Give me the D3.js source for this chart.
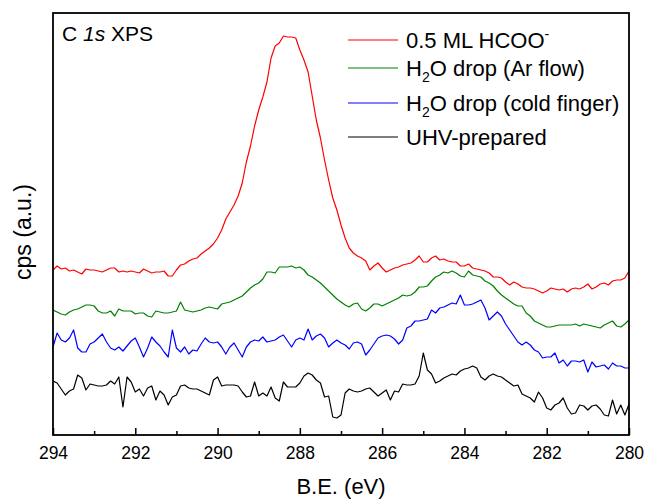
<!DOCTYPE html>
<html>
<head>
<meta charset="utf-8">
<script src="https://cdn.jsdelivr.net/npm/d3@7"></script>
<style>
  body { margin: 0; background: #fff; }
  svg { display: block; font-family: "Liberation Sans", Arial, sans-serif; }
</style>
</head>
<body>
<div id="chart"></div>
<script>
// binding energy grid, 294 -> 280 eV in 0.1 eV steps
const energy = d3.range(141).map(i => +(294 - i * 0.1).toFixed(1));

const majorTicks = [294, 292, 290, 288, 286, 284, 282, 280];
const minorTicks = [293, 291, 289, 287, 285, 283, 281];

// intensities (arbitrary units, offset traces)
const formate = [
  165,169,166,167,164,165,163,161,166,165,
  165,164,163,165,167,167,163,164,163,164,
  163,162,166,164,162,163,163,164,159,159,
  165,170,171,174,176,177,181,184,187,191,
  197,205,216,223,230,239,252,273,289,309,
  325,338,353,377,389,392,399,398,398,397,
  385,375,363,339,315,297,275,255,237,225,
  210,197,187,182,179,177,174,165,169,172,
  167,163,165,167,168,170,171,172,175,179,
  173,173,177,179,175,176,174,173,173,169,
  169,171,167,166,165,164,162,158,158,157,
  153,150,153,151,148,147,147,146,144,142,
  144,147,146,145,146,143,146,147,146,148,
  151,146,148,151,152,150,154,155,155,157,164
];
const arFlow = [
  125,123,121,120,123,125,126,128,130,130,
  129,124,122,122,124,119,126,124,124,124,
  121,122,122,119,118,124,123,122,122,123,
  124,133,125,124,123,124,125,127,128,127,
  126,131,132,133,135,137,139,143,147,150,
  152,156,163,163,162,168,168,168,169,167,
  168,165,160,158,155,152,148,144,140,136,
  133,130,128,131,132,126,124,127,131,131,
  129,131,133,135,137,140,139,140,143,148,
  148,149,154,158,160,163,162,164,162,159,
  158,164,160,159,158,154,152,149,144,140,
  137,134,131,129,129,122,119,114,112,110,
  108,108,109,110,110,110,110,111,109,111,
  110,109,108,107,110,112,114,109,108,111,115
];
const coldFinger = [
  88,102,95,93,97,105,87,83,83,91,
  93,97,101,93,87,85,88,84,89,94,
  97,88,78,87,98,93,89,83,78,105,
  87,83,88,81,85,84,91,97,93,92,
  93,88,81,88,92,85,78,88,93,95,
  94,98,93,94,95,98,100,94,88,95,
  97,95,106,95,99,101,97,88,92,95,
  92,90,86,92,93,91,80,85,91,97,
  99,100,99,96,91,95,107,109,114,114,
  115,116,125,122,127,128,130,132,131,140,
  130,130,131,133,135,127,115,119,123,119,
  111,105,99,93,90,93,90,85,83,77,
  78,78,82,72,75,69,74,74,73,75,
  63,73,68,69,70,66,72,69,69,67,67
];
const uhv = [
  54,52,46,40,44,46,60,57,45,51,
  50,49,49,50,54,51,58,28,58,53,
  43,46,39,47,49,35,44,40,30,38,
  40,49,50,47,46,46,44,42,40,55,
  58,49,50,50,50,49,43,38,39,53,
  39,42,39,48,37,34,53,48,48,48,
  52,59,62,60,55,52,38,39,18,17,
  20,42,46,44,43,44,46,47,43,39,
  42,45,35,44,43,51,50,50,51,59,
  82,65,61,52,54,57,59,61,60,64,
  66,67,69,67,58,55,59,61,59,58,
  55,52,49,50,41,39,37,33,43,37,
  27,25,30,32,37,27,21,22,30,29,
  25,29,30,26,20,19,35,21,30,20,31
];

const seriesNames = ["0.5 ML HCOO", "H2O drop (Ar flow)", "H2O drop (cold finger)", "UHV-prepared"];
const seriesColors = ["#ff0000", "#008000", "#0000ff", "#000000"];
const seriesValues = [formate, arFlow, coldFinger, uhv];

const width = 646, height = 499;
const margin = { top: 13, right: 17, bottom: 64, left: 53 };

const svg = d3.select("#chart")
    .append("svg")
    .attr("width", width)
    .attr("height", height);

const x = d3.scaleLinear()
    .domain([294, 280])
    .range([margin.left, width - margin.right]);

const y = d3.scaleLinear()
    .domain([0, 422])
    .range([height - margin.bottom, margin.top]);

svg.append("clipPath").attr("id", "plot")
    .append("rect")
    .attr("x", margin.left).attr("y", margin.top)
    .attr("width", width - margin.left - margin.right)
    .attr("height", height - margin.top - margin.bottom);

const line = d3.line()
    .x((d, i) => x(energy[i]))
    .y(d => y(d));

// traces, black drawn first so red sits on top
seriesValues.slice().reverse().forEach((vals, k) => {
    const idx = seriesValues.length - 1 - k;
    svg.append("path")
        .datum(vals)
        .attr("clip-path", "url(#plot)")
        .attr("fill", "none")
        .attr("stroke", seriesColors[idx])
        .attr("stroke-width", 1.2)
        .attr("stroke-linejoin", "round")
        .attr("d", line);
});

// bottom axis, ticks pointing in
const xAxis = svg.append("g")
    .attr("transform", `translate(0,${height - margin.bottom})`)
    .call(d3.axisBottom(x).tickValues(majorTicks).tickSize(-7).tickPadding(12).tickFormat(d3.format("d")));
xAxis.select(".domain").remove();
xAxis.selectAll("line").attr("stroke-width", 1.5);
xAxis.selectAll("text")
    .style("font-size", "17.5px")
    .attr("fill", "#000");

const xMinor = svg.append("g")
    .attr("transform", `translate(0,${height - margin.bottom})`)
    .call(d3.axisBottom(x).tickValues(minorTicks).tickSize(-4).tickFormat(""));
xMinor.select(".domain").remove();
xMinor.selectAll("line").attr("stroke-width", 1.5);

// frame
svg.append("rect")
    .attr("x", margin.left)
    .attr("y", margin.top)
    .attr("width", width - margin.left - margin.right)
    .attr("height", height - margin.top - margin.bottom)
    .attr("fill", "none")
    .attr("stroke", "#000")
    .attr("stroke-width", 1.8);

// axis titles
svg.append("text")
    .attr("x", 341)
    .attr("y", 494)
    .attr("text-anchor", "middle")
    .style("font-size", "22px")
    .text("B.E. (eV)");

svg.append("text")
    .attr("transform", "translate(31,232) rotate(-90)")
    .attr("text-anchor", "middle")
    .style("font-size", "23px")
    .text("cps (a.u.)");

// panel label
const panel = svg.append("text")
    .attr("x", 62)
    .attr("y", 41)
    .style("font-size", "21px");
panel.append("tspan").text("C ");
panel.append("tspan").style("font-style", "italic").text("1s");
panel.append("tspan").text(" XPS");

// legend
const legendRows = [40, 68, 103, 137];
const legend = svg.append("g");
seriesNames.forEach((name, i) => {
    legend.append("line")
        .attr("x1", 348).attr("x2", 398)
        .attr("y1", legendRows[i]).attr("y2", legendRows[i])
        .attr("stroke", seriesColors[i])
        .attr("stroke-width", 1.2);
    const t = legend.append("text")
        .attr("x", 406)
        .attr("y", legendRows[i] + 7.5)
        .style("font-size", "22px");
    if (name.startsWith("H2O")) {
        t.append("tspan").text("H");
        t.append("tspan").attr("dy", 6).style("font-size", "14px").text("2");
        t.append("tspan").attr("dy", -6).text(name.slice(2));
    } else if (i === 0) {
        t.append("tspan").text(name);
        t.append("tspan").attr("dy", -9).style("font-size", "14px").text("-");
    } else {
        t.text(name);
    }
});
</script>
</body>
</html>
